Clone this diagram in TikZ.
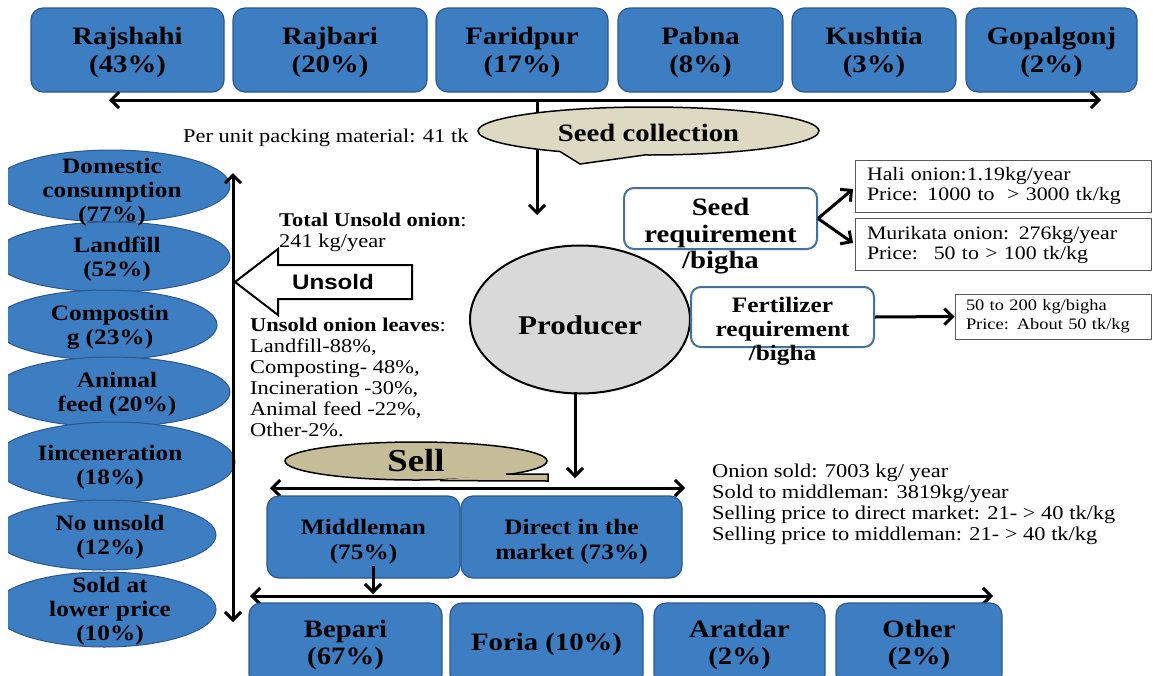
\documentclass[tikz,border=0pt]{standalone}
\usepackage{fontspec}
\setmainfont{Liberation Serif}[FakeStretch=1.15]
\newfontfamily\unsoldfont{Liberation Sans}[FakeStretch=1.15]
\usetikzlibrary{arrows.meta,shapes.geometric,shapes.callouts}
\definecolor{boxblue}{RGB}{61,125,194}
\definecolor{bluedraw}{RGB}{45,88,140}
\definecolor{reqdraw}{RGB}{65,113,156}
\definecolor{seedfill}{RGB}{221,217,195}
\definecolor{sellfill}{RGB}{196,189,151}
\definecolor{prodfill}{RGB}{217,217,217}
\definecolor{infodraw}{RGB}{90,90,90}
\newcommand{\topstrut}[1]{\rule{0pt}{#1}}
\tikzset{
  bluebox/.style={draw=bluedraw, line width=1.2pt, fill=boxblue, rounded corners=12pt, inner sep=0pt, align=center, font=\fontsize{25}{28}\selectfont\bfseries},
  blueell/.style={ellipse, draw=bluedraw, line width=1pt, fill=boxblue, inner sep=0pt},
  elltext/.style={align=center, inner sep=0pt, font=\fontsize{22}{24}\selectfont\bfseries},
  reqbox/.style={draw=reqdraw, line width=2pt, fill=white, rounded corners=10pt, inner sep=0pt},
  reqtext/.style={align=center, inner sep=0pt},
  infobox/.style={draw=infodraw, line width=1pt, fill=white, inner ysep=0pt, align=left},
  plaintext/.style={align=left, inner sep=0pt, font=\fontsize{19.5}{21}\selectfont},
  arr/.style={line width=3pt, -{Straight Barb[length=8pt,width=16pt]}},
  darr/.style={line width=3pt, {Straight Barb[length=8pt,width=16pt]}-{Straight Barb[length=8pt,width=16pt]}},
}
\begin{document}
\begin{tikzpicture}[x=1pt,y=-1pt]
\useasboundingbox (0,0) rectangle (1153,675);
\fill[white] (0,0) rectangle (1153,675);
\clip (0,0) rectangle (1153,675);

% ---- top district boxes
\node[bluebox, minimum width=193pt, minimum height=84pt] (rajshahi) at (127.5,50) {\topstrut{23pt}Rajshahi\\(43\%)};
\node[bluebox, minimum width=194pt, minimum height=84pt] (rajbari) at (330,50) {\topstrut{23pt}Rajbari\\(20\%)};
\node[bluebox, minimum width=172pt, minimum height=84pt] (faridpur) at (522,50) {\topstrut{23pt}Faridpur\\(17\%)};
\node[bluebox, minimum width=165pt, minimum height=84pt] (pabna) at (700.5,50) {\topstrut{23pt}Pabna\\(8\%)};
\node[bluebox, minimum width=164pt, minimum height=84pt] (kushtia) at (874,50) {\topstrut{23pt}Kushtia\\(3\%)};
\node[bluebox, minimum width=171pt, minimum height=84pt] (gopalgonj) at (1051.5,50) {\topstrut{23pt}Gopalgonj\\(2\%)};

\coordinate (topl) at (109,100);
\coordinate (topr) at (1101,100);
\draw[darr] (topl) -- (topr);

% ---- seed collection
\coordinate (topmid) at (537,100);
\coordinate (seedend) at (537,215);
\draw[arr] (topmid) -- (seedend);
\node[ellipse callout, draw=black, line width=1.5pt, fill=seedfill, minimum width=341pt, minimum height=48pt, inner sep=0pt,
      callout absolute pointer={(580,164)}, callout pointer arc=30,
      font=\fontsize{25}{28}\selectfont\bfseries] (seedcol) at (648.5,131) {\topstrut{21pt}Seed collection};

\node[plaintext, anchor=west] (packing) at (183,138) {Per unit packing material: 41 tk};

% ---- seed requirement
\node[reqbox, minimum width=193pt, minimum height=61pt] (sreq) at (720.5,218.5) {};
\node[reqtext, font=\fontsize{25}{26.5}\selectfont\bfseries] (sreqtext) at (720.5,236.5) {Seed\\requirement\\/bigha};

\node[infobox, minimum height=52pt, text width=272pt, inner xsep=12pt, font=\fontsize{19}{20}\selectfont] (hali) at (1003,186) {Hali onion:1.19kg/year\\Price: 1000 to ~> 3000 tk/kg};
\node[infobox, minimum height=52pt, text width=272pt, inner xsep=12pt, font=\fontsize{19}{20}\selectfont] (murikata) at (1003,244.5) {Murikata onion: 276kg/year\\Price: ~50 to > 100 tk/kg};
\coordinate (halip) at (853,189);
\coordinate (murip) at (853,243);
\draw[arr] (sreq.east) -- (halip);
\draw[arr] (sreq.east) -- (murip);

% ---- producer
\node[ellipse, draw=black, line width=2pt, fill=prodfill, minimum width=220pt, minimum height=148pt, inner sep=0pt] (prod) at (580,319.5) {};
\node[inner sep=0pt, font=\fontsize{27}{30}\selectfont\bfseries] (prodtext) at (580,325) {Producer};

% ---- fertilizer requirement
\node[reqbox, minimum width=183pt, minimum height=60pt] (freq) at (782.5,317) {};
\node[reqtext, font=\fontsize{22}{24}\selectfont\bfseries] (freqtext) at (782.5,331.5) {Fertilizer\\requirement\\/bigha};
\node[infobox, minimum height=45pt, text width=174pt, inner xsep=11pt, font=\fontsize{16}{19}\selectfont] (fbox) at (1053,316.5) {50 to 200 kg/bigha\\Price: About 50 tk/kg};
\draw[arr] (freq.east) -- (fbox.west);

% ---- left ellipses (cut at the left edge)
\begin{scope}
\clip (8,0) rectangle (1153,675);
\node[blueell, minimum width=237pt, minimum height=72pt] (domestic) at (111.5,186) {};
\node[blueell, minimum width=237pt, minimum height=70pt] (landfill) at (111.5,257) {};
\node[blueell, minimum width=224pt, minimum height=70pt] (compost) at (105,325) {};
\node[blueell, minimum width=237pt, minimum height=70pt] (animal) at (111.5,392) {};
\node[blueell, minimum width=242pt, minimum height=80pt] (incin) at (114,462) {};
\node[blueell, minimum width=223pt, minimum height=70pt] (nounsold) at (104.5,535) {};
\node[blueell, minimum width=223pt, minimum height=75pt] (lower) at (104.5,609.5) {};
\end{scope}
\node[elltext] at (112,192) {Domestic\\consumption\\(77\%)};
\node[elltext] at (117,259.5) {Landfill\\(52\%)};
\node[elltext] at (110,327.5) {Compostin\\g (23\%)};
\node[elltext] at (117,394) {Animal\\feed (20\%)};
\node[elltext] at (110,467.5) {Iinceneration\\(18\%)};
\node[elltext] at (110,537.5) {No unsold\\(12\%)};
\node[elltext] at (110,611.5) {Sold at\\lower price\\(10\%)};

\coordinate (leftup) at (233,173);
\coordinate (leftdown) at (233,622);
\draw[darr] (leftup) -- (leftdown);

% ---- unsold arrow
\draw[line width=2pt, fill=white] (235,282) -- (278,249) -- (278,265) -- (412,265) -- (412,299) -- (278,299) -- (278,315) -- cycle;
\node[inner sep=0pt, font=\fontsize{21}{24}\selectfont\unsoldfont\bfseries] (unsoldtext) at (333,282) {Unsold};

\node[plaintext, anchor=west] (totunsold) at (279,232) {\textbf{Total Unsold onion}:\\241 kg/year};
\node[plaintext, anchor=west] (leaves) at (250,377.5) {\textbf{Unsold onion leaves}:\\Landfill-88\%,\\Composting- 48\%,\\Incineration -30\%,\\Animal feed -22\%,\\Other-2\%.};

% ---- sell
\coordinate (prodout) at (575,392);
\coordinate (prodend) at (575,478);
\draw[arr] (prodout) -- (prodend);
\node[ellipse, draw=black, line width=1.5pt, fill=sellfill, minimum width=262pt, minimum height=38pt, inner sep=0pt,
      font=\fontsize{32}{34}\selectfont\bfseries] (sell) at (416,461) {Sell};
\fill[sellfill] (500,474.2) -- (548,474.2) -- (548,481) -- (430,481) -- cycle;
\draw[line width=1.5pt, line join=miter] (506,474.2) -- (548,474.2) -- (548,481) -- (440,480.6);
\coordinate (selll) at (270,488);
\coordinate (sellr) at (685,488);
\draw[darr] (selll) -- (sellr);

\node[bluebox, minimum width=193pt, minimum height=82pt, font=\fontsize{22}{25}\selectfont\bfseries] (middleman) at (363.5,537) {\topstrut{25pt}Middleman\\(75\%)};
\node[bluebox, minimum width=221pt, minimum height=82pt, font=\fontsize{22}{25}\selectfont\bfseries] (direct) at (571.5,537) {\topstrut{25pt}Direct in the\\market (73\%)};

\node[plaintext, anchor=west] (soldinfo) at (712,504.5) {Onion sold: 7003 kg/ year\\Sold to middleman: 3819kg/year\\Selling price to direct market: 21- > 40 tk/kg\\Selling price to middleman: 21- > 40 tk/kg};

\coordinate (midout) at (373,566);
\coordinate (midend) at (373,594);
\draw[arr] (midout) -- (midend);
\coordinate (botl) at (250,596);
\coordinate (botr) at (993,596);
\draw[darr] (botl) -- (botr);

\node[bluebox, minimum width=193pt, minimum height=83pt, font=\fontsize{25}{27}\selectfont\bfseries] (bepari) at (345.5,644.5) {Bepari\\(67\%)};
\node[bluebox, minimum width=193pt, minimum height=83pt, font=\fontsize{25}{27}\selectfont\bfseries] (foria) at (546.5,644.5) {Foria (10\%)};
\node[bluebox, minimum width=171pt, minimum height=83pt, font=\fontsize{25}{27}\selectfont\bfseries] (aratdar) at (739.5,644.5) {Aratdar\\(2\%)};
\node[bluebox, minimum width=166pt, minimum height=83pt, font=\fontsize{25}{27}\selectfont\bfseries] (other) at (919,644.5) {Other\\(2\%)};
\end{tikzpicture}
\end{document}
